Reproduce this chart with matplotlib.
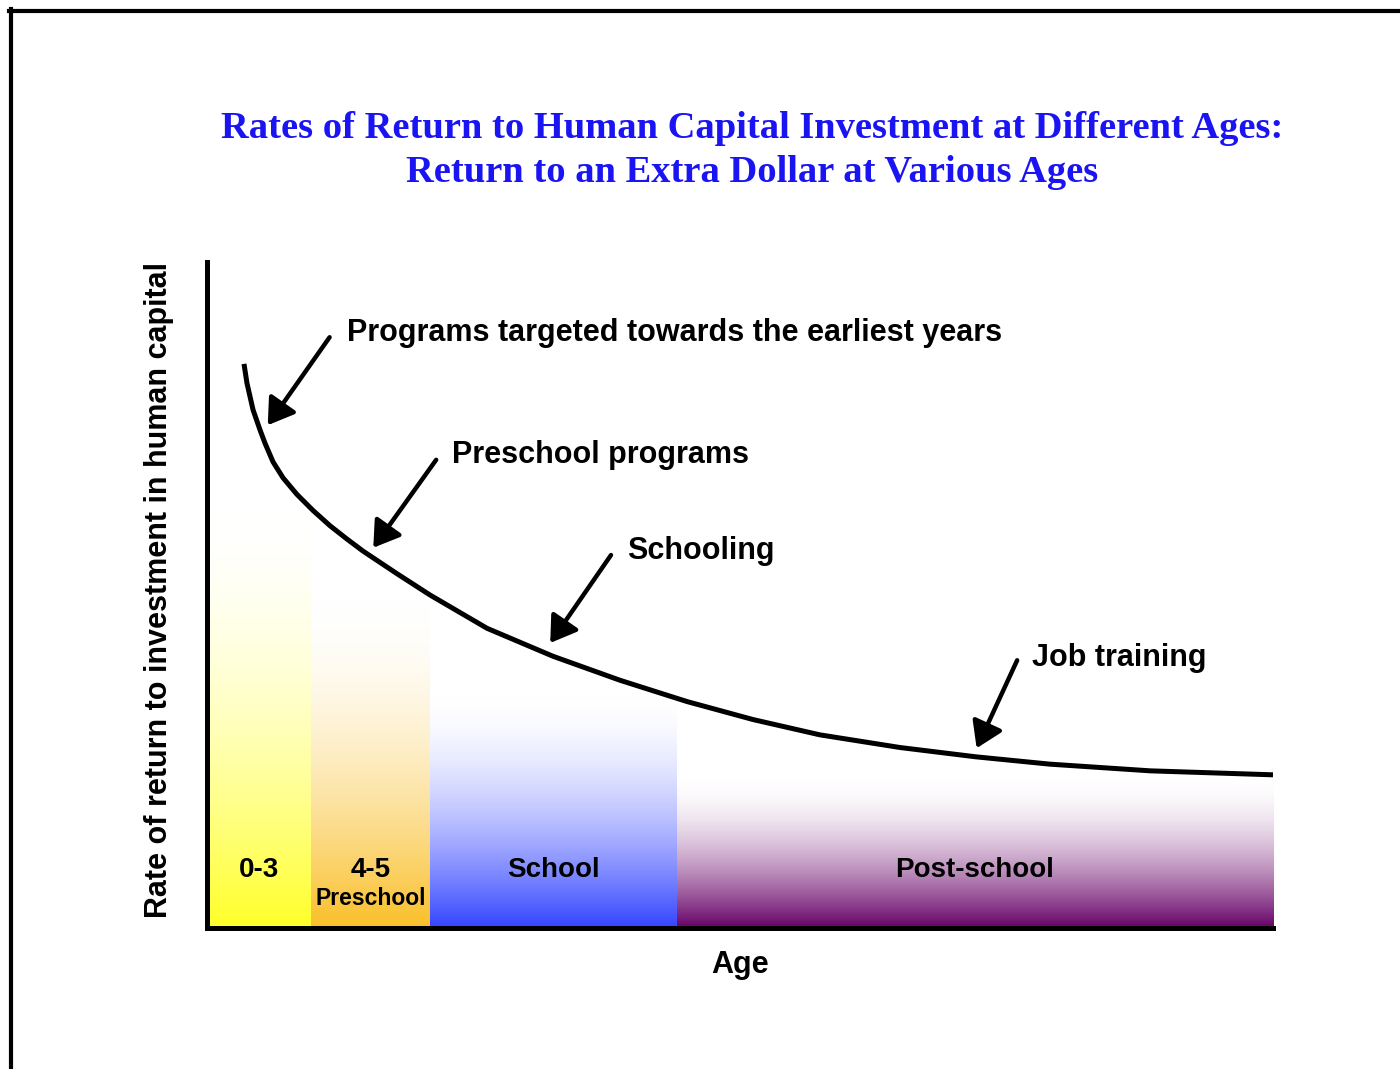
import numpy as np
import matplotlib
matplotlib.use("Agg")
import matplotlib.pyplot as plt
from matplotlib.lines import Line2D

# curve (age units 0-100, rate units 0-100)
curve_age = [3.47, 3.75, 4.32, 4.97, 5.44, 6.19, 7.13, 8.44, 9.94, 11.54, 13.13,
             14.63, 17.82, 20.92, 26.27, 32.46, 38.74, 45.03, 51.22, 57.50, 65.01,
             72.14, 79.08, 88.46, 100.0]
curve_rate = [84.7, 81.8, 77.8, 74.8, 72.8, 70.0, 67.6, 65.1, 62.7, 60.4, 58.4,
              56.6, 53.2, 50.0, 45.0, 40.8, 37.2, 34.0, 31.3, 29.0, 27.1,
              25.7, 24.6, 23.6, 23.0]

# age bands
band_labels = ["0-3", "4-5", "School", "Post-school"]
band_edges = [0, 9.76, 20.92, 44.09, 100]
band_tops = [62.3, 49.2, 34.7, 22.3]
band_colors = [(1.0, 1.0, 0.16), (0.98, 0.75, 0.16), (0.2, 0.27, 1.0), (0.4, 0.0, 0.4)]

# annotations: text, text position, arrow start, arrow end
notes = ["Programs targeted towards the earliest years", "Preschool programs",
         "Schooling", "Job training"]
note_xy = [(13.1, 89.3), (23.0, 71.0), (39.4, 56.6), (77.4, 40.5)]
arrow_from = [(11.5, 88.7), (21.5, 70.3), (37.9, 56.0), (76.0, 40.2)]
arrow_to = [(5.7, 75.5), (15.6, 57.1), (32.2, 42.8), (72.2, 27.0)]

sans = "Liberation Sans"

fig = plt.figure(figsize=(14, 10.69), dpi=100)
ax = fig.add_axes([207 / 1400, 1 - 928 / 1069, (1273 - 207) / 1400, (928 - 262) / 1069])

# gradient bands: white at the top, full colour at the bottom
n = 200
for i in range(len(band_labels)):
    t = np.linspace(0, 1, n)  # 0 = bottom, 1 = top
    w = (1 - t) ** 1.7
    base = np.array(band_colors[i])
    img = (1 - w[:, None]) * np.ones(3) + w[:, None] * base
    img = img[:, None, :]
    ax.imshow(img, extent=[band_edges[i], band_edges[i + 1], 0, band_tops[i]],
              origin="lower", aspect="auto", zorder=1, interpolation="bilinear")

ax.plot(curve_age, curve_rate, color="black", lw=3.6, solid_capstyle="butt",
        solid_joinstyle="round", zorder=3)

for i in range(len(notes)):
    ax.text(note_xy[i][0], note_xy[i][1], notes[i], fontsize=22, fontweight="bold",
            family=sans, ha="left", va="center", zorder=4)
    ax.annotate("", xy=arrow_to[i], xytext=arrow_from[i],
                arrowprops=dict(arrowstyle="-|>,head_length=0.7,head_width=0.45",
                                lw=3.2, color="black", mutation_scale=22,
                                shrinkA=0, shrinkB=0), zorder=4)

# band labels
for i in range(len(band_labels)):
    cx = (band_edges[i] + band_edges[i + 1]) / 2
    ax.text(cx, 8.7, band_labels[i], fontsize=20, fontweight="bold", family=sans,
            ha="center", va="center", zorder=4)
ax.text((band_edges[1] + band_edges[2]) / 2, 4.4, "Preschool", fontsize=16.5,
        fontweight="bold", family=sans, ha="center", va="center", zorder=4)

ax.set_xlim(0, 100)
ax.set_ylim(0, 100)
ax.set_xticks([])
ax.set_yticks([])
ax.spines["top"].set_visible(False)
ax.spines["right"].set_visible(False)
ax.spines["left"].set_linewidth(3.6)
ax.spines["bottom"].set_linewidth(3.6)

ax.text(50, -5.6, "Age", fontsize=22, fontweight="bold", family=sans,
        ha="center", va="center", clip_on=False)
ax.text(-4.5, 50.7, "Rate of return to investment in human capital", fontsize=22,
        fontweight="bold", family=sans, rotation=90, ha="center", va="center",
        clip_on=False)

# title
title_color = (0.1, 0.08, 0.95)
fig.text(752 / 1400, 1 - 128 / 1069,
         "Rates of Return to Human Capital Investment at Different Ages:",
         fontsize=27.7, fontweight="bold", family="Liberation Serif", color=title_color,
         ha="center", va="center")
fig.text(752 / 1400, 1 - 172 / 1069, "Return to an Extra Dollar at Various Ages",
         fontsize=27.7, fontweight="bold", family="Liberation Serif", color=title_color,
         ha="center", va="center")

# slide frame
fig.add_artist(Line2D([9 / 1400, 1], [1 - 11 / 1069, 1 - 11 / 1069], color="black",
                      lw=3, transform=fig.transFigure))
fig.add_artist(Line2D([11 / 1400, 11 / 1400], [0, 1 - 9 / 1069], color="black",
                      lw=3, transform=fig.transFigure))

fig.savefig("out.png", dpi=100)
